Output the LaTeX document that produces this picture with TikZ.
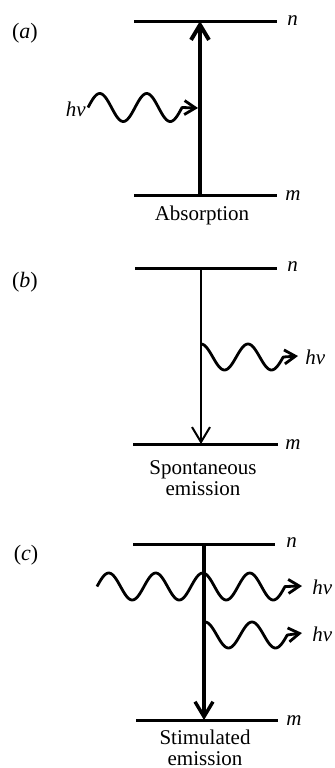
\documentclass[tikz,border=0pt]{standalone}
\usepackage{fontspec}
\setmainfont{Liberation Serif}
\usetikzlibrary{positioning,arrows.meta}
\tikzset{
  lvl/.style={line width=1.5pt},
  jumpT/.style={line width=2pt,-{Straight Barb[length=7.5pt,width=9pt]}},
  jumpN/.style={line width=1pt,-{Straight Barb[length=7.5pt,width=9pt]}},
  photon/.style={line width=1.4pt,line join=round,
    -{Straight Barb[length=5.5pt,width=7pt]}},
  lvlname/.style={font=\fontsize{10.5}{12}\selectfont\itshape,
    anchor=west,inner sep=0pt},
  hnu/.style={font=\fontsize{10.5}{12}\selectfont\itshape,
    anchor=west,inner sep=0pt},
  caption/.style={font=\fontsize{10.5}{10.5}\selectfont,align=center,
    inner sep=0pt},
  part/.style={font=\fontsize{11}{13}\selectfont,inner sep=0pt},
}
\begin{document}
\begin{tikzpicture}[x=0.5pt,y=-0.5pt]
  \useasboundingbox (0,0) rectangle (335,768);
  % (a) absorption
  \node[part] (pa) at (25,33) {(\textit{a})};
  \coordinate (aTl) at (134,21);  \coordinate (aTr) at (277,21);
  \coordinate (aBl) at (134,195); \coordinate (aBr) at (277,195);
  \draw[lvl] (aTl) -- (aTr);
  \draw[lvl] (aBl) -- (aBr);
  \node[lvlname] (an) at (287,21) {n};
  \node[lvlname] (am) at (285,196) {m};
  \coordinate (aUp) at (200,21); \coordinate (aLo) at (200,195);
  \draw[jumpT] (aLo) -- (aUp);
  \coordinate (aHit) at (198,108);
  \draw[photon] plot[domain=88:182,samples=80,smooth]
    (\x,{107.5-14*sin((\x-88)/47*360)}) -- (aHit);
  \node[hnu,anchor=east] (ahnu) at (86,109) {hν};
  \node[caption] (acap) at (202,215) {Absorption};
  % (b) spontaneous emission
  \node[part] (pb) at (25,282) {(\textit{b})};
  \coordinate (bTl) at (135,268); \coordinate (bTr) at (277,268);
  \coordinate (bBl) at (133,444); \coordinate (bBr) at (278,444);
  \draw[lvl] (bTl) -- (bTr);
  \draw[lvl] (bBl) -- (bBr);
  \node[lvlname] (bn) at (287,267) {n};
  \node[lvlname] (bm) at (285,445) {m};
  \coordinate (bUp) at (201,268); \coordinate (bLo) at (201,444);
  \draw[jumpN] (bUp) -- (bLo);
  \coordinate (bOut) at (298,356);
  \draw[photon] plot[domain=201:283.25,samples=80,smooth]
    (\x,{357-13*cos((\x-201)/47*360)}) -- (bOut);
  \node[hnu] (bhnu) at (305,357) {hν};
  \node[caption] (bcap) at (203,478) {Spontaneous\\emission};
  % (c) stimulated emission
  \node[part] (pc) at (26,555) {(\textit{c})};
  \coordinate (cTl) at (133,544); \coordinate (cTr) at (275,544);
  \coordinate (cBl) at (136,720); \coordinate (cBr) at (278,720);
  \draw[lvl] (cTl) -- (cTr);
  \draw[lvl] (cBl) -- (cBr);
  \node[lvlname] (cn) at (286,543) {n};
  \node[lvlname] (cm) at (286,721) {m};
  \coordinate (cUp) at (204,544); \coordinate (cLo) at (204,720);
  \draw[jumpT,line width=1.7pt] (cUp) -- (cLo);
  \coordinate (cOut1) at (302,586);
  \coordinate (cOut2) at (302,633);
  \draw[photon] plot[domain=97:285,samples=140,smooth]
    (\x,{586.5-13.5*sin((\x-97)/47*360)}) -- (cOut1);
  \draw[photon] plot[domain=205:287.25,samples=80,smooth]
    (\x,{635-13*cos((\x-205)/47*360)}) -- (cOut2);
  \node[hnu] (chnu1) at (312,587) {hν};
  \node[hnu] (chnu2) at (312,634) {hν};
  \node[caption] (ccap) at (205,748) {Stimulated\\emission};
\end{tikzpicture}
\end{document}
